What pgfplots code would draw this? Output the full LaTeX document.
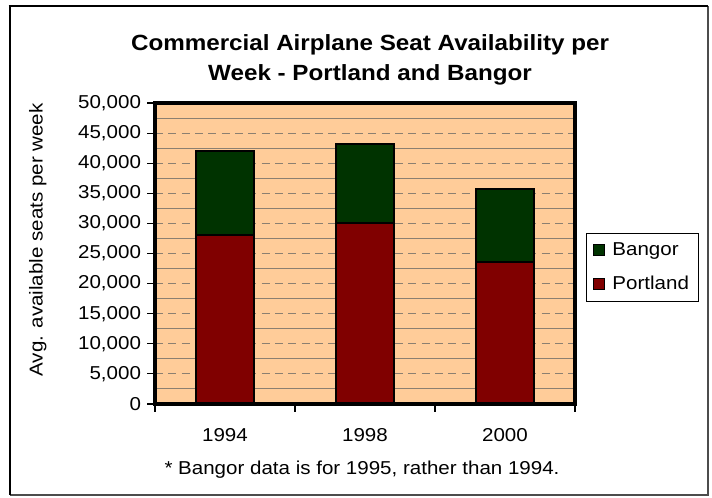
\documentclass[border=0pt]{standalone}
\usepackage{pgfplots}
\pgfplotsset{compat=1.18}
\usepackage{graphicx}
\usepackage{fontspec}
\setmainfont{Liberation Sans}
\definecolor{peach}{HTML}{FFCC99}
\definecolor{portland}{HTML}{800000}
\definecolor{bangor}{HTML}{003300}
\definecolor{gridc}{HTML}{8C7F70}
\newcommand{\sx}[1]{\scalebox{1.1}[1]{#1}}
\newcommand{\tf}{\fontsize{14}{16}\selectfont}
\begin{document}
\begin{tikzpicture}[x=0.75pt,y=0.75pt]
\path (0,0) rectangle (712,498);
\draw[line width=0.8pt,black!70] (10,3) -- (708,3) -- (708,492);
\draw[line width=2.2pt] (10,3) -- (10,492) (8.5,492) -- (708,492);
\node[font=\bfseries\fontsize{16.5}{22.5}\selectfont, align=center] at (370,438)
  {\scalebox{1.1}[1]{Commercial Airplane Seat Availability per}\\\scalebox{1.1}[1]{Week - Portland and Bangor}};
\begin{axis}[
  at={(116.25pt,70.5pt)}, anchor=south west, scale only axis,
  width=315pt, height=225.75pt,
  xmin=0.5, xmax=3.5, ymin=0, ymax=50000,
  ybar stacked, bar width=43.3pt,
  axis background/.style={fill=peach},
  xtick={1,2,3}, xticklabels={\sx{1994},\sx{1998},\sx{2000}},
  major x tick style={draw=none},
  minor xtick={0.5,1.5,2.5,3.5},
  ytick={0,5000,...,50000},
  minor ytick={2500,7500,...,47500},
  minor y tick style={draw=none},
  ymajorgrids, yminorgrids,
  major grid style={draw=gridc, line width=0.7pt, dash pattern=on 6pt off 4pt},
  minor grid style={draw=gridc, line width=0.7pt},
  tick align=outside, major tick length=6pt, minor tick length=6pt,
  ytick pos=left, xtick pos=bottom,
  tick style={black, line width=0.8pt},
  scaled y ticks=false,
  /pgf/number format/1000 sep={,},
  /pgf/number format/assume math mode=true,
  yticklabel={\sx{\pgfmathprintnumber{\tick}}},
  ticklabel style={font=\tf},
  yticklabel style={xshift=-1pt},
  xticklabel style={yshift=-9pt},
  ylabel={\sx{Avg. available seats per week}},
  ylabel style={at={(axis description cs:-0.279,0.545)}, anchor=center, font=\tf},
  legend style={at={(1.026,0.568)}, anchor=north west, draw=black, line width=0.6pt,
    font=\tf, row sep=10pt, inner sep=5pt, column sep=4pt},
  legend cell align=left,
  reverse legend,
  legend image code/.code={\draw[#1, line width=0.6pt] (0pt,-4pt) rectangle (8pt,4pt);},
]
\addplot+[fill=portland, draw=black, line width=1.5pt] coordinates {(1,28000) (2,30000) (3,23650)};
\addlegendentry{\sx{Portland}}
\addplot+[fill=bangor, draw=black, line width=1.5pt] coordinates {(1,14100) (2,13250) (3,12050)};
\addlegendentry{\sx{Bangor}}
\end{axis}
\draw[line width=2.4pt] (116.25pt,70.5pt) rectangle ++(315pt,225.75pt);
\node[font=\tf] at (362,28) {\sx{* Bangor data is for 1995, rather than 1994.}};
\end{tikzpicture}
\end{document}
